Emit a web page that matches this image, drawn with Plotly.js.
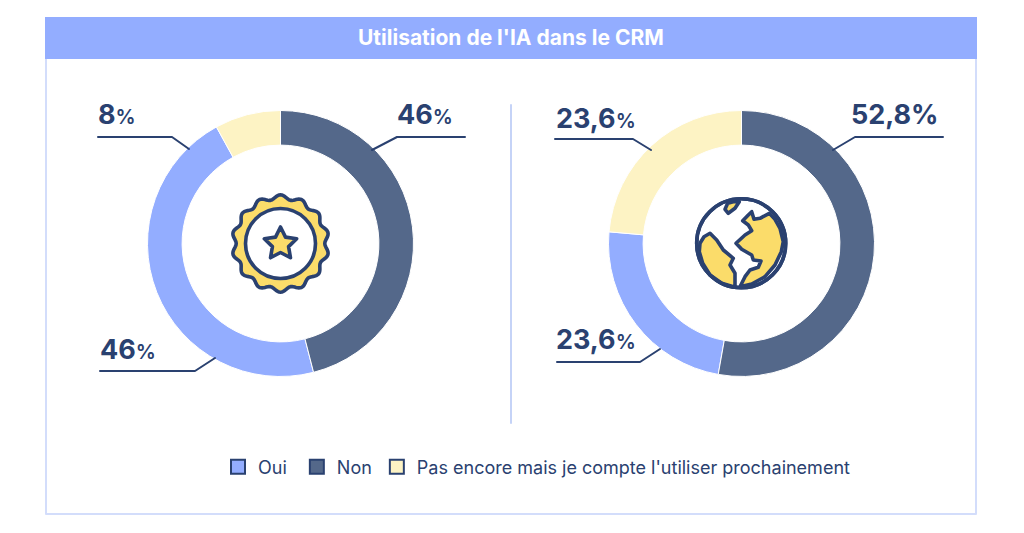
<!DOCTYPE html>
<html><head><meta charset="utf-8">
<script src="https://cdn.plot.ly/plotly-3.0.1.min.js"></script>
<style>html,body{margin:0;padding:0;background:#fff}#c{width:1024px;height:533px}
.shapelayer path{stroke-linejoin:round;stroke-linecap:round}</style>
</head><body><div id="c"></div>
<script>
// Data
const chartTitle = "Utilisation de l'IA dans le CRM";
const categories = ["Oui", "Non", "Pas encore mais je compte l'utiliser prochainement"];
const leftValues = [46, 46, 8];
const rightValues = [23.6, 52.8, 23.6];

// Style
const W = 1024, H = 533;
const colors = ["#93adff", "#54688a", "#fdf3c4"];
const ink = "#2a4170", gold = "#fbdc6a", frame = "#d3ddfb";
const font = "Inter, 'Noto Sans', sans-serif";
const px = x => x / W, py = y => 1 - y / H;
const R = 133, CY = 243.5, CXL = 280.5, CXR = 741.5;

function donut(values, cx) {
  // counter-clockwise order keeps the legend order while Non starts at 12 o'clock going clockwise
  const total = values.reduce((a, b) => a + b, 0);
  return {
    type: "pie", labels: categories, values, sort: false, direction: "counterclockwise",
    rotation: values[1] / total * 360, hole: 0.74,
    domain: {x: [px(cx - R), px(cx + R)], y: [py(CY + R), py(CY - R)]},
    marker: {colors, line: {color: "#ffffff", width: 1}},
    textinfo: "none", hoverinfo: "label+percent", showlegend: false
  };
}
const legendTraces = categories.map((name, i) => ({
  type: "scatter", mode: "markers", x: [null], y: [null],
  name: i === 0 ? name + "\u00a0" : name, showlegend: true,
  marker: {symbol: "square", size: 14, color: colors[i], line: {color: ink, width: 2}}
}));

// Label text
const fmt = v => String(v).replace(".", ",");
const lab = (v, small) => small ? `<b>${fmt(v)}</b><span style="font-size:20px;font-weight:600">%</span>` : `<b>${fmt(v)}%</b>`;
function label(v, x, y, small = true) {
  return {text: lab(v, small), xref: "paper", yref: "paper", x: px(x), y: py(y), xanchor: "left", yanchor: "middle",
    showarrow: false, font: {family: font, size: 27, color: ink}, borderpad: 0};
}
const annotations = [
  {text: "<b>" + chartTitle + "</b>", xref: "paper", yref: "paper", x: px(511), y: py(37.5), xanchor: "center", yanchor: "middle",
   showarrow: false, font: {family: font, size: 21, color: "#ffffff"}},
  label(leftValues[1], 396, 115), label(leftValues[2], 97, 115), label(leftValues[0], 99, 349),
  label(rightValues[1], 850, 115, false), label(rightValues[2], 555, 118), label(rightValues[0], 555, 339)
];

// Decoration
const seg = (pts) => ({type: "path", xref: "x", yref: "y", path: "M" + pts.map(p => p.join(",")).join(" L"),
  line: {color: ink, width: 2}, layer: "above"});
const leaders = [
  [[465,137],[397,137],[372,150]], [[98,137],[172,137],[189,149]], [[100,371],[195,371],[215,358]],
  [[943,137],[855,137],[833,150]], [[555,139],[633,139],[651,150]], [[557,362],[640,362],[660,349]]
].map(seg);

function badgePath(cx, cy, r, amp, lobes) {
  let d = "";
  for (let i = 0; i <= 240; i++) {
    const a = i / 240 * 2 * Math.PI, rr = r + amp * Math.cos(lobes * a);
    d += (i ? "L" : "M") + (cx + rr * Math.sin(a)).toFixed(2) + "," + (cy - rr * Math.cos(a)).toFixed(2);
  }
  return d + "Z";
}
function starPath(cx, cy, ro, ri) {
  let d = "";
  for (let i = 0; i < 10; i++) {
    const a = i * Math.PI / 5, rr = i % 2 ? ri : ro;
    d += (i ? "L" : "M") + (cx + rr * Math.sin(a)).toFixed(2) + "," + (cy - rr * Math.cos(a)).toFixed(2);
  }
  return d + "Z";
}
const circ = (cx, cy, r, fill, w) => ({type: "circle", xref: "x", yref: "y", x0: cx - r, x1: cx + r, y0: cy - r, y1: cy + r,
  fillcolor: fill, line: {color: ink, width: w}, layer: "above"});
const icon = (d, fill) => ({type: "path", xref: "x", yref: "y", path: d, fillcolor: fill, line: {color: ink, width: 3.6}, layer: "above"});
// globe drawn in a 120x120 zoom cell (3x) starting at 680,180
const gx = x => (680 + x / 3).toFixed(1), gy = y => (180 + y / 3).toFixed(1);
const gp = pts => "M" + pts.map(p => gx(p[0]) + "," + gy(p[1])).join("L") + "Z";
const contTop = [[135,88],[143,70],[160,65],[178,65],[165,85],[145,100]];
const contRight = [[268,100],[240,115],[222,118],[215,95],[205,105],[188,122],[205,135],[215,152],[195,165],[168,190],[185,208],[215,225],[220,240],[243,243],[235,262],[210,270],[195,290],[180,320],[215,312],[255,290],[285,255],[304,215],[310,185],[300,145],[285,118]];
const contLeft = [[60,190],[72,170],[90,160],[110,180],[130,210],[160,235],[150,255],[165,280],[165,322],[125,310],[90,285],[68,250],[58,215]];

const shapes = [
  {type: "rect", xref: "x", yref: "y", x0: 46, x1: 976, y0: 18, y1: 514, line: {color: frame, width: 2}, fillcolor: "#fff", layer: "below"},
  {type: "rect", xref: "x", yref: "y", x0: 45, x1: 977, y0: 17, y1: 59, line: {width: 0}, fillcolor: "#93adff", layer: "below"},
  {type: "line", xref: "x", yref: "y", x0: 511, x1: 511, y0: 105, y1: 423, line: {color: "#c5d3f7", width: 2}, layer: "below"},
  ...leaders,
  icon(badgePath(280.5, 243.5, 46.5, 2.2, 14), gold),
  circ(280.5, 243.5, 35, "#ffffff", 3.6),
  icon(starPath(280.5, 244, 17, 8.5), gold),
  circ(741.2, 243.3, 44.5, "#ffffff", 3.6),
  icon(gp(contTop), gold), icon(gp(contRight), gold), icon(gp(contLeft), gold),
  circ(741.2, 243.3, 44.5, "rgba(0,0,0,0)", 3.6)
];

const layout = {
  width: W, height: H, margin: {l: 0, r: 0, t: 0, b: 0}, paper_bgcolor: "#fff", plot_bgcolor: "rgba(0,0,0,0)",
  xaxis: {range: [0, W], visible: false, fixedrange: true},
  yaxis: {range: [H, 0], visible: false, fixedrange: true},
  showlegend: true,
  legend: {orientation: "h", x: px(218), y: py(467), xanchor: "left", yanchor: "middle",
    font: {family: font, size: 18, color: ink}, bgcolor: "rgba(0,0,0,0)", itemclick: false, itemdoubleclick: false},
  annotations, shapes
};
Plotly.newPlot("c", [...legendTraces, donut(leftValues, CXL), donut(rightValues, CXR)], layout, {displayModeBar: false, responsive: false});
</script></body></html>
